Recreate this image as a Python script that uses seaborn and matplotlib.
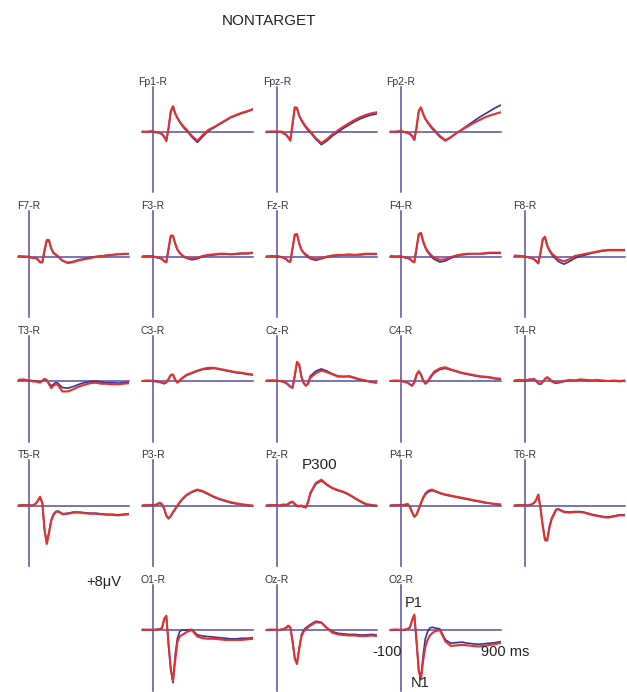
import seaborn as sns
import matplotlib.pyplot as plt

# sample times (ms) shared by every channel
TIMES = [-100, -50, 0, 20, 40, 60, 80, 100, 120, 140, 160, 180, 200, 220, 240,
         260, 280, 300, 350, 400, 450, 500, 550, 600, 650, 700, 750, 800, 850, 900]

# amplitudes in microvolts, red trace (A) and blue trace (B)
FP1_A = [0.1, 0.0, 0.2, -0.1, 0.0, -0.2, -0.3, -0.8, -1.6, 0.8, 3.8, 4.7, 3.4, 2.6, 1.9, 1.4, 0.9, 0.5, -0.7, -1.6, -0.5, 0.4, 0.9, 1.5, 2.1, 2.7, 3.1, 3.5, 3.8, 4.1]
FP1_B = [0.0, 0.1, 0.1, 0.0, -0.1, -0.2, -0.4, -0.9, -1.7, 0.6, 3.6, 4.6, 3.3, 2.5, 1.8, 1.2, 0.7, 0.3, -0.9, -1.9, -0.8, 0.2, 0.8, 1.4, 2.0, 2.6, 3.0, 3.4, 3.7, 4.2]
FPZ_A = [0.0, 0.1, 0.1, 0.0, 0.1, -0.2, -0.4, -0.9, -1.5, 1.5, 4.5, 4.4, 3.0, 2.2, 1.6, 1.0, 0.5, 0.1, -1.1, -2.0, -1.3, -0.4, 0.3, 1.0, 1.6, 2.2, 2.7, 3.1, 3.4, 3.6]
FPZ_B = [0.1, 0.0, 0.0, 0.1, 0.0, -0.3, -0.5, -1.0, -1.6, 1.3, 4.3, 4.3, 2.9, 2.1, 1.4, 0.8, 0.3, -0.1, -1.3, -2.3, -1.6, -0.7, 0.0, 0.7, 1.3, 1.9, 2.4, 2.8, 3.1, 3.3]
FP2_A = [0.1, 0.0, 0.2, 0.0, 0.0, -0.1, -0.3, -0.7, -1.4, 0.9, 3.9, 4.5, 3.3, 2.4, 1.8, 1.3, 0.8, 0.4, -0.7, -1.5, -0.9, -0.2, 0.4, 1.0, 1.6, 2.1, 2.6, 3.0, 3.3, 3.6]
FP2_B = [0.0, 0.1, 0.1, 0.1, -0.1, -0.2, -0.4, -0.8, -1.5, 0.7, 3.7, 4.4, 3.2, 2.3, 1.7, 1.1, 0.6, 0.2, -0.9, -1.6, -1.0, -0.2, 0.5, 1.2, 1.9, 2.6, 3.2, 3.8, 4.4, 4.9]

F7_A = [0.1, 0.0, 0.0, -0.2, -0.3, -0.2, -0.5, -1.0, -1.0, 1.2, 3.0, 3.0, 1.5, 0.7, 0.4, 0.1, -0.3, -0.7, -1.2, -1.0, -0.7, -0.5, -0.3, -0.1, 0.0, 0.2, 0.3, 0.4, 0.5, 0.5]
F7_B = [0.0, 0.0, -0.1, -0.2, -0.3, -0.3, -0.6, -1.1, -1.1, 1.0, 2.8, 2.9, 1.4, 0.6, 0.3, 0.0, -0.4, -0.8, -1.1, -0.9, -0.6, -0.4, -0.2, 0.0, 0.1, 0.2, 0.3, 0.4, 0.4, 0.5]
F3_A = [0.0, 0.1, 0.0, -0.1, -0.2, -0.2, -0.4, -0.8, -1.0, 1.5, 3.8, 3.8, 2.4, 1.3, 0.7, 0.3, 0.0, -0.2, -0.4, -0.2, 0.1, 0.3, 0.4, 0.5, 0.5, 0.4, 0.5, 0.6, 0.6, 0.7]
F3_B = [0.0, 0.0, 0.1, -0.1, -0.2, -0.3, -0.5, -0.9, -1.1, 1.3, 3.6, 3.7, 2.3, 1.2, 0.6, 0.2, -0.1, -0.3, -0.6, -0.4, 0.0, 0.2, 0.3, 0.4, 0.4, 0.4, 0.4, 0.5, 0.5, 0.6]
FZ_A = [0.0, 0.0, 0.1, 0.0, -0.1, -0.2, -0.4, -0.8, -0.9, 1.6, 4.0, 4.1, 2.4, 1.3, 0.7, 0.4, 0.1, -0.2, -0.5, -0.3, 0.0, 0.2, 0.3, 0.3, 0.4, 0.3, 0.4, 0.5, 0.5, 0.5]
FZ_B = [0.0, 0.1, 0.0, 0.0, -0.1, -0.3, -0.5, -0.9, -1.0, 1.4, 3.8, 4.0, 2.3, 1.2, 0.6, 0.2, -0.1, -0.4, -0.7, -0.4, -0.1, 0.1, 0.2, 0.3, 0.3, 0.3, 0.3, 0.4, 0.4, 0.4]
F4_A = [0.1, 0.0, 0.1, -0.1, -0.2, -0.2, -0.4, -0.8, -1.0, 1.6, 4.1, 4.3, 2.8, 1.7, 1.0, 0.5, 0.1, -0.2, -0.6, -0.5, -0.1, 0.2, 0.4, 0.5, 0.5, 0.5, 0.6, 0.7, 0.7, 0.7]
F4_B = [0.0, 0.0, 0.0, -0.1, -0.2, -0.3, -0.5, -0.9, -1.1, 1.4, 3.9, 4.2, 2.6, 1.5, 0.8, 0.3, -0.2, -0.5, -1.0, -0.8, -0.3, 0.1, 0.3, 0.4, 0.5, 0.5, 0.5, 0.6, 0.6, 0.6]
F8_A = [0.2, 0.1, 0.0, -0.1, -0.2, -0.3, -0.5, -0.8, -1.2, 0.8, 3.2, 3.6, 2.0, 1.2, 0.6, 0.2, -0.1, -0.5, -0.9, -0.5, 0.1, 0.3, 0.5, 0.7, 0.9, 1.1, 1.2, 1.2, 1.2, 1.2]
F8_B = [0.1, 0.1, 0.0, -0.1, -0.2, -0.3, -0.5, -0.9, -1.3, 0.6, 3.0, 3.5, 1.9, 1.0, 0.4, -0.1, -0.5, -0.9, -1.4, -0.9, -0.3, 0.1, 0.3, 0.6, 0.8, 1.0, 1.1, 1.1, 1.1, 1.1]

T3_A = [0.2, 0.3, 0.1, 0.0, -0.1, -0.1, -0.2, -0.3, 0.0, 0.4, 0.2, -0.6, -1.3, -0.9, -0.6, -0.7, -1.3, -1.9, -1.9, -1.5, -1.0, -0.7, -0.4, -0.3, -0.5, -0.5, -0.6, -0.6, -0.5, -0.4]
T3_B = [0.1, 0.2, 0.1, 0.1, 0.0, 0.0, -0.1, -0.2, 0.1, 0.3, 0.1, -0.4, -0.9, -0.6, -0.3, -0.4, -0.8, -1.2, -1.3, -1.0, -0.6, -0.3, -0.1, 0.0, -0.2, -0.3, -0.3, -0.4, -0.3, -0.2]
C3_A = [0.0, 0.1, 0.0, -0.1, -0.1, -0.2, -0.3, -0.4, -0.2, 0.4, 1.1, 1.2, 0.3, -0.3, 0.1, 0.5, 0.8, 1.1, 1.5, 1.9, 2.2, 2.4, 2.4, 2.2, 2.0, 1.8, 1.6, 1.5, 1.3, 1.2]
C3_B = [0.0, 0.0, 0.1, 0.0, -0.1, -0.2, -0.3, -0.5, -0.3, 0.3, 1.0, 1.1, 0.2, -0.3, 0.0, 0.4, 0.7, 1.0, 1.4, 1.8, 2.1, 2.2, 2.3, 2.1, 1.9, 1.7, 1.5, 1.4, 1.2, 1.1]
CZ_A = [0.1, 0.1, 0.1, 0.0, 0.0, -0.1, -0.3, -0.6, -1.0, -1.2, 1.0, 3.5, 3.0, 0.8, -0.3, -0.8, -0.5, 0.6, 1.4, 1.9, 1.6, 1.2, 0.8, 0.8, 0.9, 0.6, 0.3, 0.1, -0.2, -0.3]
CZ_B = [0.0, 0.1, 0.0, 0.0, -0.1, -0.2, -0.4, -0.7, -1.1, -1.3, 0.8, 3.3, 2.9, 0.7, -0.4, -0.9, -0.4, 0.9, 1.8, 2.2, 1.8, 1.3, 0.9, 0.8, 0.8, 0.5, 0.2, 0.0, -0.2, -0.3]
C4_A = [0.0, 0.1, 0.0, -0.1, -0.2, -0.3, -0.6, -0.8, -0.2, 1.2, 1.8, 1.2, 0.1, -0.5, -0.1, 0.6, 1.2, 1.7, 2.3, 2.5, 2.1, 1.8, 1.5, 1.3, 1.1, 0.9, 0.8, 0.7, 0.5, 0.4]
C4_B = [0.0, 0.0, 0.1, -0.1, -0.2, -0.3, -0.6, -0.9, -0.3, 1.0, 1.7, 1.1, 0.0, -0.5, -0.2, 0.4, 1.0, 1.5, 2.1, 2.3, 2.0, 1.7, 1.4, 1.2, 1.0, 0.8, 0.7, 0.6, 0.4, 0.3]
T4_A = [0.1, 0.2, 0.1, 0.2, 0.3, 0.3, 0.4, 0.1, -0.4, -0.5, -0.1, 0.4, 0.7, 0.4, 0.0, -0.2, -0.3, -0.3, 0.0, 0.2, 0.1, 0.3, 0.2, 0.1, 0.2, 0.1, 0.0, 0.1, 0.0, 0.1]
T4_B = [0.0, 0.1, 0.1, 0.1, 0.2, 0.2, 0.3, 0.0, -0.5, -0.6, -0.2, 0.3, 0.6, 0.3, -0.1, -0.3, -0.4, -0.3, -0.1, 0.1, 0.1, 0.2, 0.1, 0.1, 0.1, 0.0, 0.0, 0.0, -0.1, 0.0]

T5_A = [0.0, 0.1, 0.0, 0.0, 0.1, 0.3, 0.9, 1.6, 0.5, -4.5, -7.0, -5.0, -2.8, -1.8, -1.2, -1.1, -1.3, -1.6, -1.5, -1.3, -1.3, -1.4, -1.5, -1.5, -1.6, -1.7, -1.7, -1.8, -1.7, -1.6]
T5_B = [0.0, 0.0, 0.1, 0.0, 0.1, 0.3, 0.8, 1.5, 0.4, -4.3, -6.8, -4.8, -2.6, -1.6, -1.1, -1.0, -1.2, -1.5, -1.4, -1.2, -1.2, -1.3, -1.4, -1.4, -1.5, -1.6, -1.6, -1.7, -1.6, -1.5]
P3_A = [0.0, 0.1, 0.0, 0.1, 0.3, 0.5, 0.3, -0.5, -1.8, -2.3, -1.9, -1.2, -0.6, 0.0, 0.6, 1.1, 1.5, 1.9, 2.5, 2.9, 2.6, 2.1, 1.6, 1.2, 0.9, 0.6, 0.4, 0.2, 0.1, 0.0]
P3_B = [0.0, 0.0, 0.1, 0.1, 0.2, 0.4, 0.2, -0.6, -1.9, -2.4, -2.0, -1.3, -0.7, -0.1, 0.5, 1.0, 1.4, 1.8, 2.4, 2.8, 2.5, 2.0, 1.5, 1.1, 0.8, 0.5, 0.3, 0.2, 0.0, -0.1]
PZ_A = [0.0, 0.1, 0.0, 0.0, 0.1, 0.2, 0.1, 0.3, 0.6, 0.7, 0.3, 0.0, -0.1, 0.0, -0.2, -0.3, 0.7, 2.3, 4.1, 4.7, 3.8, 3.2, 2.8, 2.5, 2.0, 1.4, 0.8, 0.3, 0.1, 0.0]
PZ_B = [0.0, 0.0, 0.1, 0.0, 0.0, 0.1, 0.1, 0.2, 0.5, 0.6, 0.2, -0.1, -0.2, -0.1, -0.3, -0.4, 0.5, 2.1, 3.9, 4.5, 3.7, 3.1, 2.7, 2.4, 1.9, 1.3, 0.7, 0.2, 0.0, -0.1]
P4_A = [0.0, 0.1, 0.0, 0.1, 0.2, 0.3, -0.2, -1.2, -2.0, -1.6, -0.6, 0.5, 1.5, 2.2, 2.6, 2.8, 2.9, 2.7, 2.3, 2.0, 1.8, 1.6, 1.4, 1.2, 1.0, 0.8, 0.6, 0.4, 0.3, 0.2]
P4_B = [0.0, 0.0, 0.1, 0.0, 0.1, 0.2, -0.3, -1.3, -2.1, -1.7, -0.7, 0.4, 1.3, 2.0, 2.4, 2.6, 2.7, 2.6, 2.2, 1.9, 1.7, 1.5, 1.3, 1.1, 0.9, 0.7, 0.5, 0.4, 0.2, 0.1]
T6_A = [0.0, 0.1, 0.0, 0.0, 0.1, 0.2, 0.5, 1.0, 2.0, -0.5, -3.8, -6.3, -6.4, -4.0, -2.5, -1.7, -0.8, -0.7, -1.2, -1.3, -1.2, -1.2, -1.4, -1.7, -1.9, -2.1, -2.2, -2.0, -1.8, -1.8]
T6_B = [0.0, 0.0, 0.1, 0.0, 0.1, 0.2, 0.4, 0.9, 1.9, -0.6, -3.7, -6.1, -6.2, -3.8, -2.3, -1.5, -0.7, -0.6, -1.1, -1.2, -1.1, -1.1, -1.3, -1.6, -1.8, -2.0, -2.1, -1.9, -1.7, -1.7]

O1_A = [0.1, 0.0, 0.1, 0.0, 0.1, 0.2, 0.3, 2.0, 2.6, -2.5, -7.0, -9.3, -5.5, -2.2, -1.2, -0.9, -0.7, -0.4, 0.0, -1.2, -1.5, -1.6, -1.6, -1.7, -1.8, -1.8, -1.8, -1.8, -1.7, -1.6]
O1_B = [0.0, 0.1, 0.0, 0.1, 0.1, 0.2, 0.3, 1.8, 2.5, -2.8, -7.2, -9.6, -4.5, -1.5, -0.3, 0.0, 0.0, 0.0, 0.1, -0.9, -1.1, -1.2, -1.3, -1.4, -1.5, -1.6, -1.6, -1.5, -1.5, -1.4]
OZ_A = [0.0, 0.1, 0.0, 0.0, 0.1, 0.2, 0.4, 0.8, 0.5, -2.0, -5.2, -6.2, -3.5, -1.2, -0.3, 0.2, 0.5, 0.8, 1.4, 1.3, 0.3, -0.5, -0.8, -0.9, -1.0, -1.0, -1.1, -1.1, -1.0, -1.1]
OZ_B = [0.0, 0.0, 0.1, 0.0, 0.1, 0.2, 0.3, 0.7, 0.4, -2.1, -5.0, -6.0, -3.2, -0.9, 0.0, 0.4, 0.7, 1.0, 1.6, 1.4, 0.4, -0.3, -0.6, -0.7, -0.8, -0.8, -0.9, -0.9, -0.8, -0.9]
O2_A = [0.0, 0.1, 0.0, 0.0, 0.1, 0.2, 0.5, 1.8, 2.8, -2.0, -7.5, -9.0, -5.5, -3.0, -1.8, -1.0, -0.6, -0.3, 0.0, -2.1, -2.9, -2.8, -2.7, -2.8, -2.9, -3.0, -2.9, -2.7, -2.6, -2.3]
O2_B = [0.0, 0.0, 0.1, 0.0, 0.1, 0.2, 0.4, 1.7, 2.7, -2.2, -7.3, -8.6, -4.5, -1.5, -0.3, 0.4, 0.5, 0.4, 0.2, -1.8, -2.4, -2.3, -2.2, -2.4, -2.5, -2.6, -2.5, -2.4, -2.3, -2.1]

# (label, row, col, red, blue)
CHANNELS = [
    ("Fp1-R", 0, 1, FP1_A, FP1_B), ("Fpz-R", 0, 2, FPZ_A, FPZ_B), ("Fp2-R", 0, 3, FP2_A, FP2_B),
    ("F7-R", 1, 0, F7_A, F7_B), ("F3-R", 1, 1, F3_A, F3_B), ("Fz-R", 1, 2, FZ_A, FZ_B),
    ("F4-R", 1, 3, F4_A, F4_B), ("F8-R", 1, 4, F8_A, F8_B),
    ("T3-R", 2, 0, T3_A, T3_B), ("C3-R", 2, 1, C3_A, C3_B), ("Cz-R", 2, 2, CZ_A, CZ_B),
    ("C4-R", 2, 3, C4_A, C4_B), ("T4-R", 2, 4, T4_A, T4_B),
    ("T5-R", 3, 0, T5_A, T5_B), ("P3-R", 3, 1, P3_A, P3_B), ("Pz-R", 3, 2, PZ_A, PZ_B),
    ("P4-R", 3, 3, P4_A, P4_B), ("T6-R", 3, 4, T6_A, T6_B),
    ("O1-R", 4, 1, O1_A, O1_B), ("Oz-R", 4, 2, OZ_A, OZ_B), ("O2-R", 4, 3, O2_A, O2_B),
]

W, H = 627, 692
AXIS_BLUE = "#5050a8"
TRACE_BLUE = "#34349a"
TRACE_RED = "#e2322e"
YMIN, YMAX = -11, 8.2

sns.set_style("white")
plt.rcParams["font.family"] = ["Liberation Sans", "DejaVu Sans"]

fig = plt.figure(figsize=(W / 100, H / 100), dpi=100)


def add_panel(label, row, col, red, blue):
    x0 = 29 + 124 * col
    base = 132 + 124.5 * row
    ax = fig.add_axes([(x0 - 11.1) / W, 1 - (base - YMIN * 5.5) / H,
                       111 / W, (YMAX - YMIN) * 5.5 / H])
    sns.lineplot(x=TIMES, y=blue, ax=ax, color=TRACE_BLUE, linewidth=1.2, zorder=3)
    sns.lineplot(x=TIMES, y=red, ax=ax, color=TRACE_RED, linewidth=1.5, zorder=4)
    ax.set_xlim(-100, 900)
    ax.set_ylim(YMIN, YMAX)
    ax.patch.set_alpha(0)
    for side in ["top", "right"]:
        ax.spines[side].set_visible(False)
    ax.spines["left"].set_position(("data", 0))
    ax.spines["bottom"].set_position(("data", 0))
    for side in ["left", "bottom"]:
        ax.spines[side].set_color(AXIS_BLUE)
        ax.spines[side].set_linewidth(1.1)
        ax.spines[side].set_zorder(2)
    ax.set_xticks(range(-100, 901, 100))
    ax.set_yticks(range(-11, 9))
    ax.tick_params(direction="inout", length=4, width=1.0, color=AXIS_BLUE,
                   labelbottom=False, labelleft=False)
    ax.set_xlabel("")
    ax.set_ylabel("")
    ax.text(0, YMAX, label, ha="center", va="bottom", fontsize=7.5, color="#333333")


for label, row, col, red, blue in CHANNELS:
    add_panel(label, row, col, red, blue)


def fig_text(x, y, s, size, **kw):
    fig.text(x / W, 1 - y / H, s, fontsize=size, color="#222222", **kw)


fig_text(269, 21, "NONTARGET", 11, ha="center", va="center")
fig_text(320, 465, "P300", 11, ha="center", va="center")
fig_text(414, 603, "P1", 10.5, ha="center", va="center")
fig_text(420, 676, "N1", 10.5, ha="center", va="top")
fig_text(402, 652, "-100", 10.5, ha="right", va="center")
fig_text(481, 652, "900 ms", 10.5, ha="left", va="center")
fig_text(104, 582, "+8\u03bcV", 10.5, ha="center", va="center")

fig.savefig("out.png", dpi=100)
